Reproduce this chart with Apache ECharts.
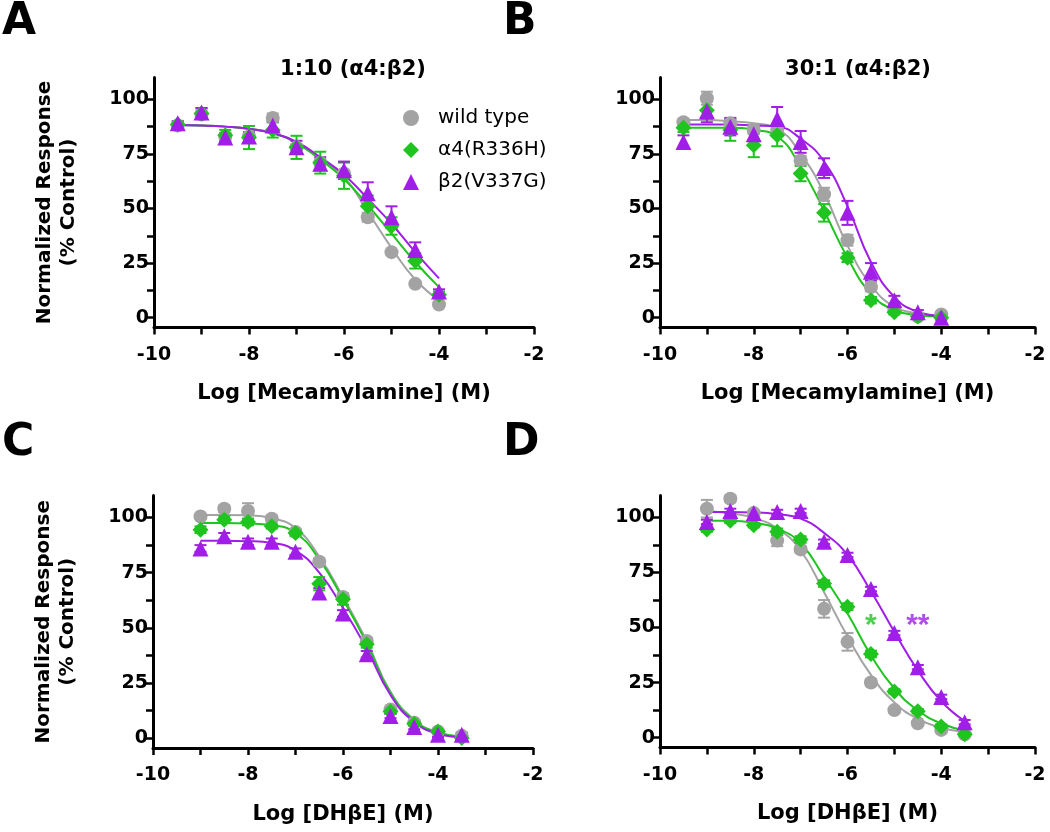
<!DOCTYPE html>
<html>
<head>
<meta charset="utf-8">
<script src="https://cdn.jsdelivr.net/npm/echarts@6/dist/echarts.min.js"></script>
<style>html,body{margin:0;padding:0;background:#fff}#c{width:1050px;height:832px}</style>
</head>
<body>
<div id="c"></div>
<script>
// ---------- data ----------
const seriesNames = ['wild type', 'α4(R336H)', 'β2(V337G)'];
const xTickLabels = [-10, -8, -6, -4, -2];
const xTicks = [-10, -9, -8, -7, -6, -5, -4, -3, -2];
const yTickLabels = [0, 25, 50, 75, 100];
const yTicks = [0, 12.5, 25, 37.5, 50, 62.5, 75, 87.5, 100];

// Panel A: 1:10 mecamylamine
const A_x = [-9.5, -9, -8.5, -8, -7.5, -7, -6.5, -6, -5.5, -5, -4.5, -4];
const A_wt = [88, 93, 83, 83, 91.5, 78, 71, 66, 46, 30, 15.5, 6];
const A_a4 = [88.5, 93.5, 83.5, 82.5, 86, 78, 71, 65, 51, 42, 26, 10.5];
const A_b2 = [89, 94, 82.5, 83, 88, 78, 70.5, 67.5, 57, 46, 31, 12];
const A_wtErr = [1, 2, 1.5, 1.5, 2, 1.5, 1.5, 1.5, 2, 1, 1, 1];
const A_a4Err = [1.5, 2.5, 2.5, 5.3, 3.5, 5.3, 5, 6, 5, 4, 3.5, 1.5];
const A_b2Err = [1, 2, 2, 2, 2, 3, 3, 4, 5, 5, 3.5, 1];
const A_wtFit = [88.2, 88, 87.5, 86.5, 84.5, 80, 72.5, 64.5, 48.5, 32, 17.5, 8];
const A_a4Fit = [88.2, 88, 87.5, 86.5, 84.5, 80, 72.5, 63.5, 51.5, 38.5, 25.5, 14];
const A_b2Fit = [88.2, 88, 87.5, 86.5, 84.5, 80.5, 73.5, 65.5, 54.5, 43, 30, 18];

// Panel B: 30:1 mecamylamine
const B_x = [-9.5, -9, -8.5, -8, -7.5, -7, -6.5, -6, -5.5, -5, -4.5, -4];
const B_wt = [89.5, 100.5, 89, 86, 86, 72, 56.5, 35.5, 14, 3.5, 0.5, 1.5];
const B_a4 = [87, 95, 86, 79, 83.5, 66, 48, 27.5, 8, 2.5, 0.5, 0];
const B_b2 = [80.5, 94.5, 87.5, 84, 91, 80.5, 68.5, 48, 21, 8, 2.5, 0];
const B_wtErr = [1.5, 3, 2, 2, 2, 2, 3, 2.5, 2, 1, 1, 1];
const B_a4Err = [2, 4, 5, 5.5, 5, 3.5, 4, 2, 1.5, 1, 0.5, 0.5];
const B_b2Err = [3, 5, 4, 3, 5.5, 5, 4.5, 5.5, 4, 2, 1, 1];
const B_wtFit = [90.5, 90.5, 90, 89, 86.5, 75, 57, 33, 15, 5, 2, 0.5];
const B_a4Fit = [87, 87, 87, 86, 83, 69, 49, 27.5, 11, 3.5, 1.2, 0.5];
const B_b2Fit = [88.5, 88.5, 88.5, 88, 87.5, 82, 71.5, 51, 25.5, 9.5, 2.7, 0.8];

// Panel C: 1:10 DHbE
const C_x = [-9, -8.5, -8, -7.5, -7, -6.5, -6, -5.5, -5, -4.5, -4, -3.5];
const C_wt = [100.5, 104, 103, 99.5, 93.5, 80, 64, 44, 13, 7, 3, 1];
const C_a4 = [94.5, 99, 98, 96, 93, 70, 63, 42.5, 12, 6.5, 3, 0];
const C_b2 = [86, 91.5, 89, 89, 84.5, 66, 56.5, 38, 10, 5, 1.5, 1.5];
const C_wtErr = [1, 1.5, 3.5, 1.5, 1, 1.5, 1.5, 1.5, 1, 1, 1, 1];
const C_a4Err = [1.5, 1.5, 1.5, 1, 1.5, 3, 2.5, 1.5, 1, 1, 1, 1];
const C_b2Err = [1.5, 1.5, 1.5, 1.5, 1.5, 2, 1.5, 1.5, 1, 1, 1, 1];
const C_wtFit = [101.2, 101.2, 101, 99.7, 95.2, 82.3, 64, 44, 21, 8.3, 2.6, 0.8];
const C_a4Fit = [97.5, 97.5, 97.3, 96.5, 93, 81, 63, 43, 20.5, 8, 2.5, 0.8];
const C_b2Fit = [89.5, 89.5, 89.3, 88.5, 85, 75, 59, 40.5, 19.5, 7.3, 2, 0.5];

// Panel D: 30:1 DHbE
const D_x = [-9, -8.5, -8, -7.5, -7, -6.5, -6, -5.5, -5, -4.5, -4, -3.5];
const D_wt = [104, 108.5, 102, 89.5, 85.5, 58.5, 43.5, 25, 12.5, 6.5, 3.5, 1.5];
const D_a4 = [94.5, 98.5, 96.5, 93.5, 90, 70, 59.5, 38, 21, 12, 5, 1.5];
const D_b2 = [98, 103, 102, 102.5, 103, 89, 83, 67.5, 47.5, 32, 18.5, 7];
const D_wtErr = [4, 1.5, 1, 2.5, 1.5, 4, 4, 1.5, 1, 1, 1, 1];
const D_a4Err = [1, 1, 1, 1.5, 1.5, 1.5, 1.5, 1.5, 1, 1, 1, 1];
const D_b2Err = [1, 1, 1, 1, 1, 1, 1, 1, 1, 1, 1, 1];
const D_wtFit = [103, 101.8, 99.8, 95, 85, 66, 46, 28.5, 16, 8.5, 4.5, 2.5];
const D_a4Fit = [98.5, 98.5, 97.6, 95, 88.2, 73, 56.4, 37.4, 22.3, 12.4, 6.4, 3.3];
const D_b2Fit = [102.5, 102.5, 102.3, 101.5, 99.5, 93, 83, 66.5, 48, 30.5, 16.5, 7.5];

// significance marks in D: [x, y, text, seriesIndex]
const D_sig = [[-5.5, 52, '*', 1], [-4.5, 52, '**', 2]];

// ---------- style ----------
const colors = ['#a3a3a3', '#1fc41f', '#a11ee8'];
const symbols = ['circle', 'diamond', 'triangle'];
const symbolSizes = [14, 16, 16];
const FONT = 'DejaVu Sans';

const panels = [
  {x: A_x, pts: [A_wt, A_a4, A_b2], err: [A_wtErr, A_a4Err, A_b2Err], fit: [A_wtFit, A_a4Fit, A_b2Fit],
   grid: {left: 154, top: 77.5, width: 380, height: 250}, xname: 'Log [Mecamylamine] (M)', yname: true},
  {x: B_x, pts: [B_wt, B_a4, B_b2], err: [B_wtErr, B_a4Err, B_b2Err], fit: [B_wtFit, B_a4Fit, B_b2Fit],
   grid: {left: 660, top: 77.5, width: 375, height: 250}, xname: 'Log [Mecamylamine] (M)', yname: false},
  {x: C_x, pts: [C_wt, C_a4, C_b2], err: [C_wtErr, C_a4Err, C_b2Err], fit: [C_wtFit, C_a4Fit, C_b2Fit],
   grid: {left: 153, top: 495.5, width: 380, height: 252.5}, xname: 'Log [DHβE] (M)', yname: true},
  {x: D_x, pts: [D_wt, D_a4, D_b2], err: [D_wtErr, D_a4Err, D_b2Err], fit: [D_wtFit, D_a4Fit, D_b2Fit],
   grid: {left: 660, top: 495.5, width: 375, height: 252}, xname: 'Log [DHβE] (M)', yname: false}
];

const grids = [], xAxes = [], yAxes = [], series = [];
const axisLine = {show: true, onZero: false, lineStyle: {color: '#000', width: 3}};

panels.forEach((p, i) => {
  grids.push(Object.assign({containLabel: false}, p.grid));
  xAxes.push({
    type: 'value', gridIndex: i, min: -10, max: -2, interval: 1,
    axisLine: axisLine,
    axisTick: {show: true, length: 7, lineStyle: {color: '#000', width: 2.5}, customValues: xTicks},
    axisLabel: {customValues: xTickLabels, color: '#000', fontFamily: FONT, fontWeight: 'bold', fontSize: 19, margin: 18},
    splitLine: {show: false},
    name: p.xname, nameLocation: 'middle', nameGap: 56,
    nameTextStyle: {color: '#000', fontFamily: FONT, fontWeight: 'bold', fontSize: 21}
  });
  yAxes.push({
    type: 'value', gridIndex: i, min: -4.5, max: 110,
    axisLine: axisLine,
    axisTick: {show: true, length: 7, lineStyle: {color: '#000', width: 2.5}, customValues: yTicks},
    axisLabel: {customValues: yTickLabels, color: '#000', fontFamily: FONT, fontWeight: 'bold', fontSize: 19, margin: 5},
    splitLine: {show: false},
    name: p.yname ? 'Normalized Response\n(% Control)' : '', nameLocation: 'middle', nameGap: 73, nameRotate: 90,
    nameTextStyle: {color: '#000', fontFamily: FONT, fontWeight: 'bold', fontSize: 20, lineHeight: 24}
  });
  // fitted curves
  p.fit.forEach((f, k) => {
    series.push({
      type: 'line', name: 'fit' + k, xAxisIndex: i, yAxisIndex: i, z: 2,
      data: p.x.map((xv, j) => [xv, f[j]]),
      smooth: 0.5, showSymbol: false, symbol: 'none', silent: true,
      lineStyle: {color: colors[k], width: 2}
    });
  });
  // error bars
  p.err.forEach((e, k) => {
    series.push({
      type: 'custom', name: 'err' + k, xAxisIndex: i, yAxisIndex: i, z: 3, silent: true,
      data: p.x.map((xv, j) => [xv, p.pts[k][j], e[j]]),
      encode: {x: 0, y: 1},
      renderItem: function (params, api) {
        const xv = api.value(0), yv = api.value(1), ev = api.value(2);
        const t = api.coord([xv, yv + ev]);
        const b = api.coord([xv, yv - ev]);
        const h = 6;
        const st = {stroke: colors[k], lineWidth: 2};
        return {type: 'group', children: [
          {type: 'line', shape: {x1: t[0], y1: t[1], x2: b[0], y2: b[1]}, style: st},
          {type: 'line', shape: {x1: t[0] - h, y1: t[1], x2: t[0] + h, y2: t[1]}, style: st},
          {type: 'line', shape: {x1: b[0] - h, y1: b[1], x2: b[0] + h, y2: b[1]}, style: st}
        ]};
      }
    });
  });
  // points
  p.pts.forEach((d, k) => {
    series.push({
      type: 'scatter', name: seriesNames[k], xAxisIndex: i, yAxisIndex: i, z: 4,
      data: p.x.map((xv, j) => [xv, d[j]]),
      symbol: symbols[k], symbolSize: symbolSizes[k],
      itemStyle: {color: colors[k], opacity: 1}
    });
  });
});

// significance marks in panel D
series.push({
  type: 'scatter', name: 'sig', xAxisIndex: 3, yAxisIndex: 3, z: 5, silent: true,
  data: D_sig.map(s => ({value: [s[0], s[1]], label: {formatter: s[2], color: colors[s[3]]}})),
  symbolSize: 0,
  label: {show: true, position: 'inside', fontFamily: 'Liberation Sans', fontWeight: 'bold', fontSize: 30, offset: [0, 3]}
});

const option = {
  backgroundColor: '#fff',
  animation: false,
  grid: grids, xAxis: xAxes, yAxis: yAxes, series: series,
  legend: {
    left: 398, top: 103, orient: 'vertical', itemGap: 12, itemWidth: 16, itemHeight: 16,
    selectedMode: false,
    data: seriesNames.map((n, k) => ({name: n, icon: symbols[k]})),
    textStyle: {color: '#000', fontFamily: FONT, fontSize: 20, padding: [0, 0, 0, 14]}
  },
  graphic: [
    {type: 'text', left: 2, top: 1, style: {text: 'A', font: 'bold 44px "DejaVu Sans"', fill: '#000'}},
    {type: 'text', left: 503, top: 1, style: {text: 'B', font: 'bold 44px "DejaVu Sans"', fill: '#000'}},
    {type: 'text', left: 2, top: 422, style: {text: 'C', font: 'bold 44px "DejaVu Sans"', fill: '#000'}},
    {type: 'text', left: 503, top: 422, style: {text: 'D', font: 'bold 44px "DejaVu Sans"', fill: '#000'}},
    {type: 'text', x: 353, y: 70, style: {text: '1:10 (α4:β2)', font: 'bold 21px "DejaVu Sans"', fill: '#000', textAlign: 'center', textVerticalAlign: 'middle'}},
    {type: 'text', x: 858, y: 70, style: {text: '30:1 (α4:β2)', font: 'bold 21px "DejaVu Sans"', fill: '#000', textAlign: 'center', textVerticalAlign: 'middle'}}
  ]
};

const chart = echarts.init(document.getElementById('c'), null, {renderer: 'canvas'});
chart.setOption(option);
</script>
</body>
</html>
